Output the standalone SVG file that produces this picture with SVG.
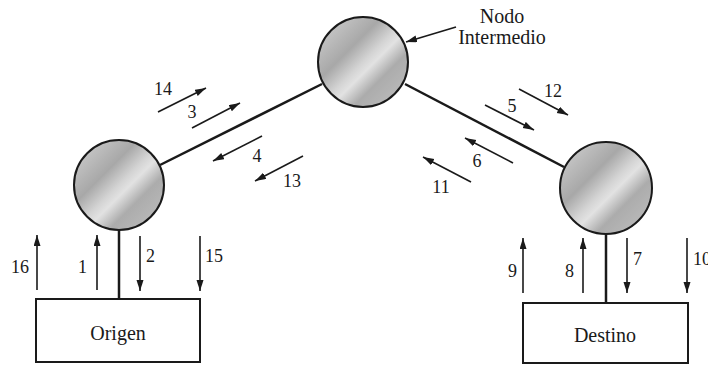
<svg xmlns="http://www.w3.org/2000/svg" width="708" height="365" viewBox="0 0 708 365">
<defs>
<linearGradient id="g" x1="0.1" y1="0.1" x2="0.9" y2="0.9">
<stop offset="0" stop-color="#c8c8c8"/>
<stop offset="0.32" stop-color="#a8a8a8"/>
<stop offset="0.5" stop-color="#d4d4d4"/>
<stop offset="0.58" stop-color="#e2e2e2"/>
<stop offset="0.74" stop-color="#acacac"/>
<stop offset="1" stop-color="#bababa"/>
</linearGradient>
<marker id="ah" markerUnits="userSpaceOnUse" markerWidth="12" markerHeight="8" refX="11" refY="3.5" orient="auto">
<path d="M0,0 L11,3.5 L0,7 z" fill="#1a1a1a"/>
</marker>
<style>
.node{fill:url(#g);stroke:#1a1a1a;stroke-width:2}
.link{stroke:#1a1a1a;stroke-width:2.5;fill:none}
.arr{stroke:#1a1a1a;stroke-width:1.6;fill:none;marker-end:url(#ah)}
.box{fill:#fff;stroke:#1a1a1a;stroke-width:2}
</style>
</defs>
<rect width="708" height="365" fill="#fff"/>
<g id="connectors">
<line class="link" x1="160" y1="165" x2="322" y2="84"/>
<line class="link" x1="405" y1="84" x2="564" y2="167"/>
<line class="link" x1="119" y1="230" x2="119" y2="300"/>
<line class="link" x1="606" y1="233" x2="606" y2="304"/>
<line class="arr" x1="456" y1="27" x2="406" y2="42"/>
<line class="arr" x1="158" y1="112" x2="206" y2="88"/>
<line class="arr" x1="192" y1="128" x2="240" y2="103"/>
<line class="arr" x1="262" y1="136" x2="213" y2="161"/>
<line class="arr" x1="303" y1="156" x2="255" y2="181"/>
<line class="arr" x1="485" y1="105" x2="534" y2="130"/>
<line class="arr" x1="519" y1="89" x2="568" y2="115"/>
<line class="arr" x1="513" y1="163" x2="465" y2="138"/>
<line class="arr" x1="471" y1="182" x2="423" y2="157"/>
<line class="arr" x1="37" y1="290" x2="37" y2="235"/>
<line class="arr" x1="97" y1="290" x2="97" y2="235"/>
<line class="arr" x1="140" y1="236" x2="140" y2="291"/>
<line class="arr" x1="200" y1="236" x2="200" y2="291"/>
<line class="arr" x1="523" y1="293" x2="523" y2="238"/>
<line class="arr" x1="583" y1="293" x2="583" y2="238"/>
<line class="arr" x1="627" y1="238" x2="627" y2="293"/>
<line class="arr" x1="687" y1="238" x2="687" y2="293"/>
</g>
<g id="nodo-origen"><circle class="node" cx="119" cy="185" r="45"/></g>
<g id="nodo-intermedio"><circle class="node" cx="363" cy="62" r="45"/></g>
<g id="nodo-destino"><circle class="node" cx="606" cy="188" r="46"/></g>
<g font-family="'Liberation Serif', 'Times New Roman', 'DejaVu Serif', serif" fill="#1a1a1a">
<g id="origen"><rect class="box" x="36" y="299" width="164" height="63"/><text font-size="20" x="118" y="340" text-anchor="middle">Origen</text></g>
<g id="destino"><rect class="box" x="523" y="303" width="165" height="60"/><text font-size="20" x="605" y="342" text-anchor="middle">Destino</text></g>
<g id="labels" font-size="18">
<text font-size="20" x="502" y="23" text-anchor="middle">Nodo</text>
<text font-size="20" x="502" y="44" text-anchor="middle">Intermedio</text>
<text x="163" y="95" text-anchor="middle">14</text>
<text x="192" y="118" text-anchor="middle">3</text>
<text x="257" y="162" text-anchor="middle">4</text>
<text x="292" y="187" text-anchor="middle">13</text>
<text x="512" y="112" text-anchor="middle">5</text>
<text x="553" y="97" text-anchor="middle">12</text>
<text x="477" y="167" text-anchor="middle">6</text>
<text x="441" y="193" text-anchor="middle">11</text>
<text x="29" y="273" text-anchor="end">16</text>
<text x="87" y="273" text-anchor="end">1</text>
<text x="146" y="262">2</text>
<text x="205" y="262">15</text>
<text x="517" y="277" text-anchor="end">9</text>
<text x="574" y="277" text-anchor="end">8</text>
<text x="633" y="265">7</text>
<text x="693" y="265">10</text>
</g>
</g>
</svg>
